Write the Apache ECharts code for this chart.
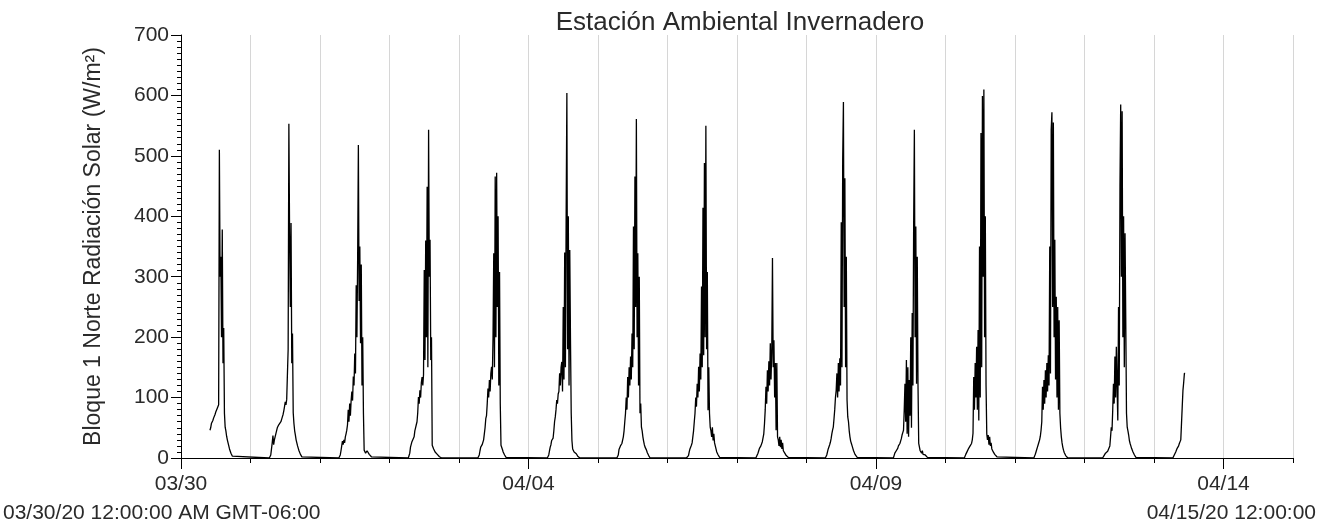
<!DOCTYPE html>
<html><head><meta charset="utf-8">
<script src="https://cdn.jsdelivr.net/npm/echarts@6/dist/echarts.min.js"></script>
<style>html,body{margin:0;padding:0;background:#fff}#c{width:1321px;height:526px}</style>
</head><body><div id="c"></div>
<script>
// ---- texts ----
const titleText = 'Estación Ambiental Invernadero';
const yName = 'Bloque 1 Norte Radiación Solar (W/m²)';
const startLabel = '03/30/20 12:00:00 AM GMT-06:00';
const endLabel = '04/15/20 12:00:00';
// day index 0..16 (days since 03/30 00:00)
const dayLabels = ['03/30','03/31','04/01','04/02','04/03','04/04','04/05','04/06','04/07','04/08','04/09','04/10','04/11','04/12','04/13','04/14','04/15'];
const labeledDays = [0, 5, 10, 15];
const yTicks = [0, 100, 200, 300, 400, 500, 600, 700];

// ---- readings (W/m²), one every 15 minutes from each day's first hour ----
const firstHour = [10, 6.5, 6.5, 6.5, 6.5, 6.5, 6.5, 6.5, 6.5, 6.5, 6, 6.5, 6.5, 6.25, 6.5];
const d0330 = [46,50,57,57,62,66,68,72,76,79,82,85,88,510,300,333,200,378,157,215,74,51,45,36,30,25,20,15,12,8,5,3,1,0];
const d0331 = [0,0,5,15,25,37,22,30,35,40,45,50,52,55,55,56,60,64,68,72,78,85,93,88,97,100,180,553,370,250,389,157,206,75,57,45,38,30,25,20,16,12,9,6,4,2,1,0];
const d0401 = [0,0,5,12,20,28,22,30,25,35,40,46,55,80,60,90,70,95,110,95,135,120,173,140,286,200,330,518,260,350,190,320,120,200,74,13,10,8,5,12,13,10,6,8,4,2,0];
const d0402 = [0,0,8,18,20,27,25,30,35,45,50,55,60,75,101,90,112,100,125,134,120,138,311,162,360,200,449,150,543,300,361,162,200,21,18,15,12,10,9,7,6,4,3,2,1,1,0];
const d0403 = [0,0,5,12,18,20,22,25,30,40,50,65,70,90,115,100,129,110,140,151,130,200,339,150,466,200,472,250,400,120,308,90,21,18,14,10,8,5,3,1,0];
const d0404 = [0,0,5,12,18,22,29,31,33,45,60,68,80,96,90,106,110,140,120,150,159,110,250,130,340,150,400,604,180,400,120,344,195,74,29,15,13,10,9,8,7,5,3,2,1,0];
const d0405 = [0,0,5,14,16,20,22,24,24,35,45,60,74,100,80,134,100,150,120,168,130,206,150,383,180,466,250,561,200,339,120,300,74,90,51,45,35,28,22,18,15,13,9,6,4,2,0];
const d0406 = [0,0,0,4,10,15,18,21,25,35,45,60,74,100,85,123,100,151,110,173,130,284,150,414,170,488,200,550,180,308,79,150,74,51,45,35,51,29,40,25,20,15,10,7,5,3,1,0];
const d0407 = [0,0,3,8,12,16,18,20,22,27,27,40,57,80,118,90,145,110,160,120,190,130,175,331,150,195,100,157,46,157,35,30,20,35,18,30,15,25,12,10,8,6,4,3,2,1,0];
const d0408 = [0,0,5,10,15,18,22,26,32,40,46,51,65,80,100,112,140,100,157,110,165,120,390,150,494,589,250,463,150,333,96,68,60,45,35,28,24,20,16,12,9,6,4,3,1,0];
const d0409 = [0,4,8,10,12,14,16,20,22,24,28,32,38,42,46,80,123,60,162,40,150,35,129,70,200,50,240,120,383,543,200,383,123,333,123,24,18,12,10,8,12,6,8,4,5,3,2,1,0];
const d0410 = [0,3,6,9,11,13,16,18,20,22,24,30,41,134,80,157,100,184,80,212,62,350,100,538,150,599,300,610,200,400,120,40,30,38,22,35,20,25,15,12,10,8,6,4,3,2,1,0];
const d0411 = [0,2,6,10,14,18,22,26,30,36,46,60,118,80,129,90,145,100,157,110,170,120,350,140,543,572,250,555,200,361,130,267,100,250,80,228,74,50,35,25,18,13,9,6,4,2,1,0];
const d0412 = [0,2,4,6,8,9,10,11,12,13,20,35,51,45,80,123,90,168,100,184,120,62,250,120,450,585,300,574,200,400,150,372,228,74,51,45,38,29,24,20,16,13,10,7,5,3,1,0];
const d0413 = [0,2,5,8,10,13,16,18,20,24,26,30,32,85,112,125,140,140];
const days = [d0330,d0331,d0401,d0402,d0403,d0404,d0405,d0406,d0407,d0408,d0409,d0410,d0411,d0412,d0413];

const stepHours = 0.25;
const series = [];
days.forEach((vals, d) => {
  vals.forEach((v, i) => {
    series.push([d + (firstHour[d] + i * stepHours) / 24, v]);
  });
});

const FONT = '"Liberation Sans", Arial, sans-serif';
const TXT = '#2a2a2a';
const chart = echarts.init(document.getElementById('c'), null, {renderer: 'canvas'});
chart.setOption({
  animation: false,
  backgroundColor: '#fff',
  grid: {left: 181, right: 28, top: 35, bottom: 68, containLabel: false},
  xAxis: [{
    type: 'value', min: 0, max: 16, interval: 1,
    axisLine: {show: true, onZero: false, lineStyle: {color: '#000', width: 1}},
    axisTick: {show: true, length: 5, lineStyle: {color: '#000'}},
    axisLabel: {customValues: labeledDays, formatter: v => dayLabels[Math.round(v)], margin: 16,
      fontSize: 21, fontFamily: FONT, color: TXT},
    splitLine: {show: true, lineStyle: {color: '#d6d6d6', width: 1}}
  }, {
    type: 'value', min: 0, max: 16, interval: 1, position: 'bottom', offset: 0,
    axisLine: {show: false},
    axisTick: {show: true, customValues: labeledDays, length: 11, lineStyle: {color: '#000'}},
    axisLabel: {show: false},
    splitLine: {show: false}
  }],
  yAxis: {
    type: 'value', min: yTicks[0], max: yTicks[yTicks.length - 1], interval: 100,
    name: yName, nameLocation: 'middle', nameRotate: 90, nameGap: 76,
    nameTextStyle: {fontSize: 23, fontFamily: FONT, color: TXT},
    axisLine: {show: true, lineStyle: {color: '#000', width: 1}},
    axisTick: {show: true, length: 10, lineStyle: {color: '#000'}},
    minorTick: {show: true, splitNumber: 10, length: 4, lineStyle: {color: '#000'}},
    axisLabel: {margin: 12, fontSize: 21, fontFamily: FONT, color: TXT, padding: [5, 0, 0, 0]},
    splitLine: {show: false}
  },
  graphic: [
    {type: 'text', style: {text: titleText, x: 740, y: 23, fontSize: 26, fontFamily: FONT, fill: TXT, textAlign: 'center', textVerticalAlign: 'middle'}},
    {type: 'text', style: {text: startLabel, x: 3, y: 513, fontSize: 21, fontFamily: FONT, fill: TXT, textAlign: 'left', textVerticalAlign: 'middle'}},
    {type: 'text', style: {text: endLabel, x: 1316, y: 513, fontSize: 21, fontFamily: FONT, fill: TXT, textAlign: 'right', textVerticalAlign: 'middle'}}
  ],
  series: [{
    type: 'line', data: series, xAxisIndex: 0, showSymbol: false, symbol: 'none',
    sampling: null, lineStyle: {color: '#000', width: 1.3}, silent: true
  }]
});
</script></body></html>
